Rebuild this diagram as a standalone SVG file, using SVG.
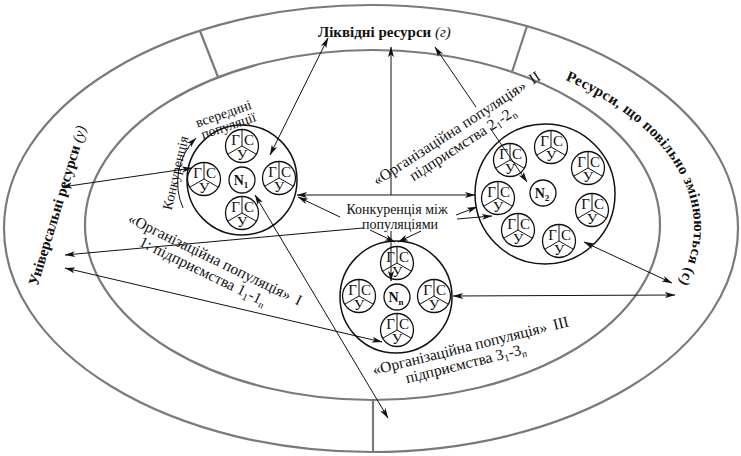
<svg xmlns="http://www.w3.org/2000/svg" xmlns:xlink="http://www.w3.org/1999/xlink" width="741" height="456" viewBox="0 0 741 456">
<style>
  .ring { fill: none; stroke: #7a7a7a; stroke-width: 2.2; }
  .big { fill: none; stroke: #111; stroke-width: 1.5; }
  .c { fill: none; stroke: #111; stroke-width: 1; }
  .t { font-family: "Liberation Serif", "Times New Roman", serif; font-size: 14px; fill: #111; }
  .p { font-size: 15.5px; }
  .b { font-weight: bold; }
  .i { font-style: italic; font-weight: normal; }
  .cl { font-family: "Liberation Serif", "Times New Roman", serif; font-size: 15px; fill: #111; text-anchor: middle; }
  .nn { font-family: "Liberation Serif", "Times New Roman", serif; font-size: 14px; font-weight: bold; fill: #111; text-anchor: middle; }
</style>
<defs>
  <marker id="ah" viewBox="0 0 12 8" refX="11.5" refY="4" markerWidth="11" markerHeight="7" markerUnits="userSpaceOnUse" orient="auto-start-reverse">
    <path d="M0,0.6 L12,4 L0,7.4 L3,4 Z" fill="#111"/>
  </marker>
  <!-- one enterprise cell: Г / С / У sectors -->
  <g id="cell">
    <circle r="16.5" fill="#fff" stroke="#111" stroke-width="1.3"/>
    <path d="M0,-16.5V0L-14.3,8.25M0,0L14.3,8.25" class="c"/>
    <text x="-6.5" y="-1.5" class="cl">Г</text>
    <text x="7" y="-1.5" class="cl">С</text>
    <text x="0" y="14" class="cl">У</text>
  </g>
  <path id="arcRight" d="M372,43 A322 184 0 0 1 694,227 A322 184 0 0 1 372,411"/>
</defs>

<rect width="741" height="456" fill="#fff"/>

<!-- resource rings -->
<g id="rings">
  <ellipse class="ring" cx="371" cy="228.5" rx="367" ry="223.5"/>
  <ellipse class="ring" cx="372.5" cy="225" rx="287.5" ry="175"/>
  <line class="ring" x1="200" y1="31" x2="218" y2="77"/>
  <line class="ring" x1="527" y1="26" x2="512" y2="72"/>
  <line class="ring" x1="373" y1="400" x2="373" y2="452"/>
</g>

<!-- ring labels -->
<g id="ring-labels">
  <text class="t b" x="318" y="37" style="font-size:15px">Ліквідні ресурси <tspan class="i">(г)</tspan></text>
  <text class="t b" x="62" y="207" text-anchor="middle" style="font-size:15px" transform="rotate(-73 62 207)">Універсальні ресурси <tspan class="i">(у)</tspan></text>
  <text class="t b" style="font-size:15px" textLength="265" lengthAdjust="spacing"><textPath xlink:href="#arcRight" startOffset="198">Ресурси, що повільно змінюються (с)</textPath></text>
</g>

<!-- population 1 -->
<g id="pop1">
  <circle class="big" cx="242" cy="180" r="55"/>
  <use xlink:href="#cell" x="242" y="146"/>
  <use xlink:href="#cell" x="204" y="179"/>
  <use xlink:href="#cell" x="279" y="178"/>
  <use xlink:href="#cell" x="242" y="213"/>
  <circle cx="242" cy="180" r="13" fill="#fff" stroke="#111" stroke-width="1.3"/>
  <text class="nn" x="241" y="185">N<tspan font-size="9" dy="3">1</tspan></text>
</g>

<!-- population 2 -->
<g id="pop2">
  <circle class="big" cx="545" cy="194" r="70"/>
  <use xlink:href="#cell" x="510" y="160"/>
  <use xlink:href="#cell" x="551" y="147"/>
  <use xlink:href="#cell" x="588" y="168"/>
  <use xlink:href="#cell" x="498" y="198"/>
  <use xlink:href="#cell" x="592" y="210"/>
  <use xlink:href="#cell" x="518" y="230"/>
  <use xlink:href="#cell" x="559" y="241"/>
  <circle cx="543" cy="193" r="13" fill="#fff" stroke="#111" stroke-width="1.3"/>
  <text class="nn" x="542" y="198">N<tspan font-size="9" dy="3">2</tspan></text>
</g>

<!-- population 3 -->
<g id="pop3">
  <circle class="big" cx="396" cy="297" r="56"/>
  <use xlink:href="#cell" x="397" y="263"/>
  <use xlink:href="#cell" x="359" y="296"/>
  <use xlink:href="#cell" x="434" y="296"/>
  <use xlink:href="#cell" x="397" y="330"/>
  <circle cx="397" cy="297" r="13" fill="#fff" stroke="#111" stroke-width="1.3"/>
  <text class="nn" x="396" y="302">N<tspan font-size="9" dy="3">n</tspan></text>
</g>

<!-- connectors -->
<g id="connectors">
  <line class="c" x1="328" y1="38" x2="270" y2="155" marker-start="url(#ah)" marker-end="url(#ah)"/>
  <line class="c" x1="391" y1="47" x2="391" y2="195" marker-start="url(#ah)"/>
  <line class="c" x1="391" y1="231" x2="391" y2="281" marker-end="url(#ah)"/>
  <line class="c" x1="435" y1="47" x2="476" y2="107" marker-start="url(#ah)"/>
  <line class="c" x1="490" y1="128" x2="527" y2="182" marker-end="url(#ah)"/>
  <line class="c" x1="297" y1="195" x2="475" y2="195" marker-start="url(#ah)" marker-end="url(#ah)"/>
  <line class="c" x1="298" y1="197" x2="340" y2="217" marker-start="url(#ah)"/>
  <line class="c" x1="370" y1="230" x2="395" y2="242" marker-end="url(#ah)"/>
  <line class="c" x1="477" y1="207" x2="456" y2="215" marker-start="url(#ah)"/>
  <line class="c" x1="421" y1="231" x2="398" y2="242" marker-end="url(#ah)"/>
  <line class="c" x1="62" y1="187" x2="192" y2="168" marker-start="url(#ah)" marker-end="url(#ah)"/>
  <line class="c" x1="65" y1="255" x2="363" y2="228" marker-start="url(#ah)"/>
  <line class="c" x1="457" y1="219" x2="492" y2="216" marker-end="url(#ah)"/>
  <line class="c" x1="65" y1="268" x2="382" y2="342" marker-start="url(#ah)" marker-end="url(#ah)"/>
  <line class="c" x1="255" y1="195" x2="388" y2="418" marker-start="url(#ah)" marker-end="url(#ah)"/>
  <line class="c" x1="584" y1="242" x2="672" y2="283" marker-start="url(#ah)" marker-end="url(#ah)"/>
  <line class="c" x1="453" y1="296" x2="675" y2="295" marker-start="url(#ah)" marker-end="url(#ah)"/>
  <path class="c" d="M183,208 A63 63 0 0 1 196,138" marker-end="url(#ah)"/>
</g>

<!-- competition labels -->
<g id="labels">
  <text class="t" x="397" y="214" text-anchor="middle">Конкуренція між</text>
  <text class="t" x="400" y="229" text-anchor="middle">популяціями</text>
  <text class="t" x="180" y="174" text-anchor="middle" transform="rotate(-77 180 174)">Конкуренція</text>
  <text class="t" x="225" y="118" text-anchor="middle" transform="rotate(-19 225 118)">всередині</text>
  <text class="t" x="230" y="130" text-anchor="middle" transform="rotate(-19 230 130)">популяції</text>

  <g transform="translate(127,222) rotate(26)">
    <text class="t p" x="0" y="0">«Організаційна популяція»</text>
    <text class="t p" x="186" y="0">I</text>
    <text class="t p" x="20" y="16">1: підприємства 1<tspan font-size="10" dy="3">1</tspan><tspan dy="-3">-1</tspan><tspan font-size="10" dy="3">n</tspan></text>
  </g>
  <g transform="translate(377,186) rotate(-33)">
    <text class="t p" x="0" y="0">«Організаційна популяція»</text>
    <text class="t p" x="186" y="0">II</text>
    <text class="t p" x="33" y="16">підприємства 2<tspan font-size="10" dy="3">1</tspan><tspan dy="-3">-2</tspan><tspan font-size="10" dy="3">n</tspan></text>
  </g>
  <g transform="translate(374,375) rotate(-14)">
    <text class="t p" x="0" y="0">«Організаційна популяція»</text>
    <text class="t p" x="186" y="0">III</text>
    <text class="t p" x="30" y="16">підприємства 3<tspan font-size="10" dy="3">1</tspan><tspan dy="-3">-3</tspan><tspan font-size="10" dy="3">n</tspan></text>
  </g>
</g>
</svg>
